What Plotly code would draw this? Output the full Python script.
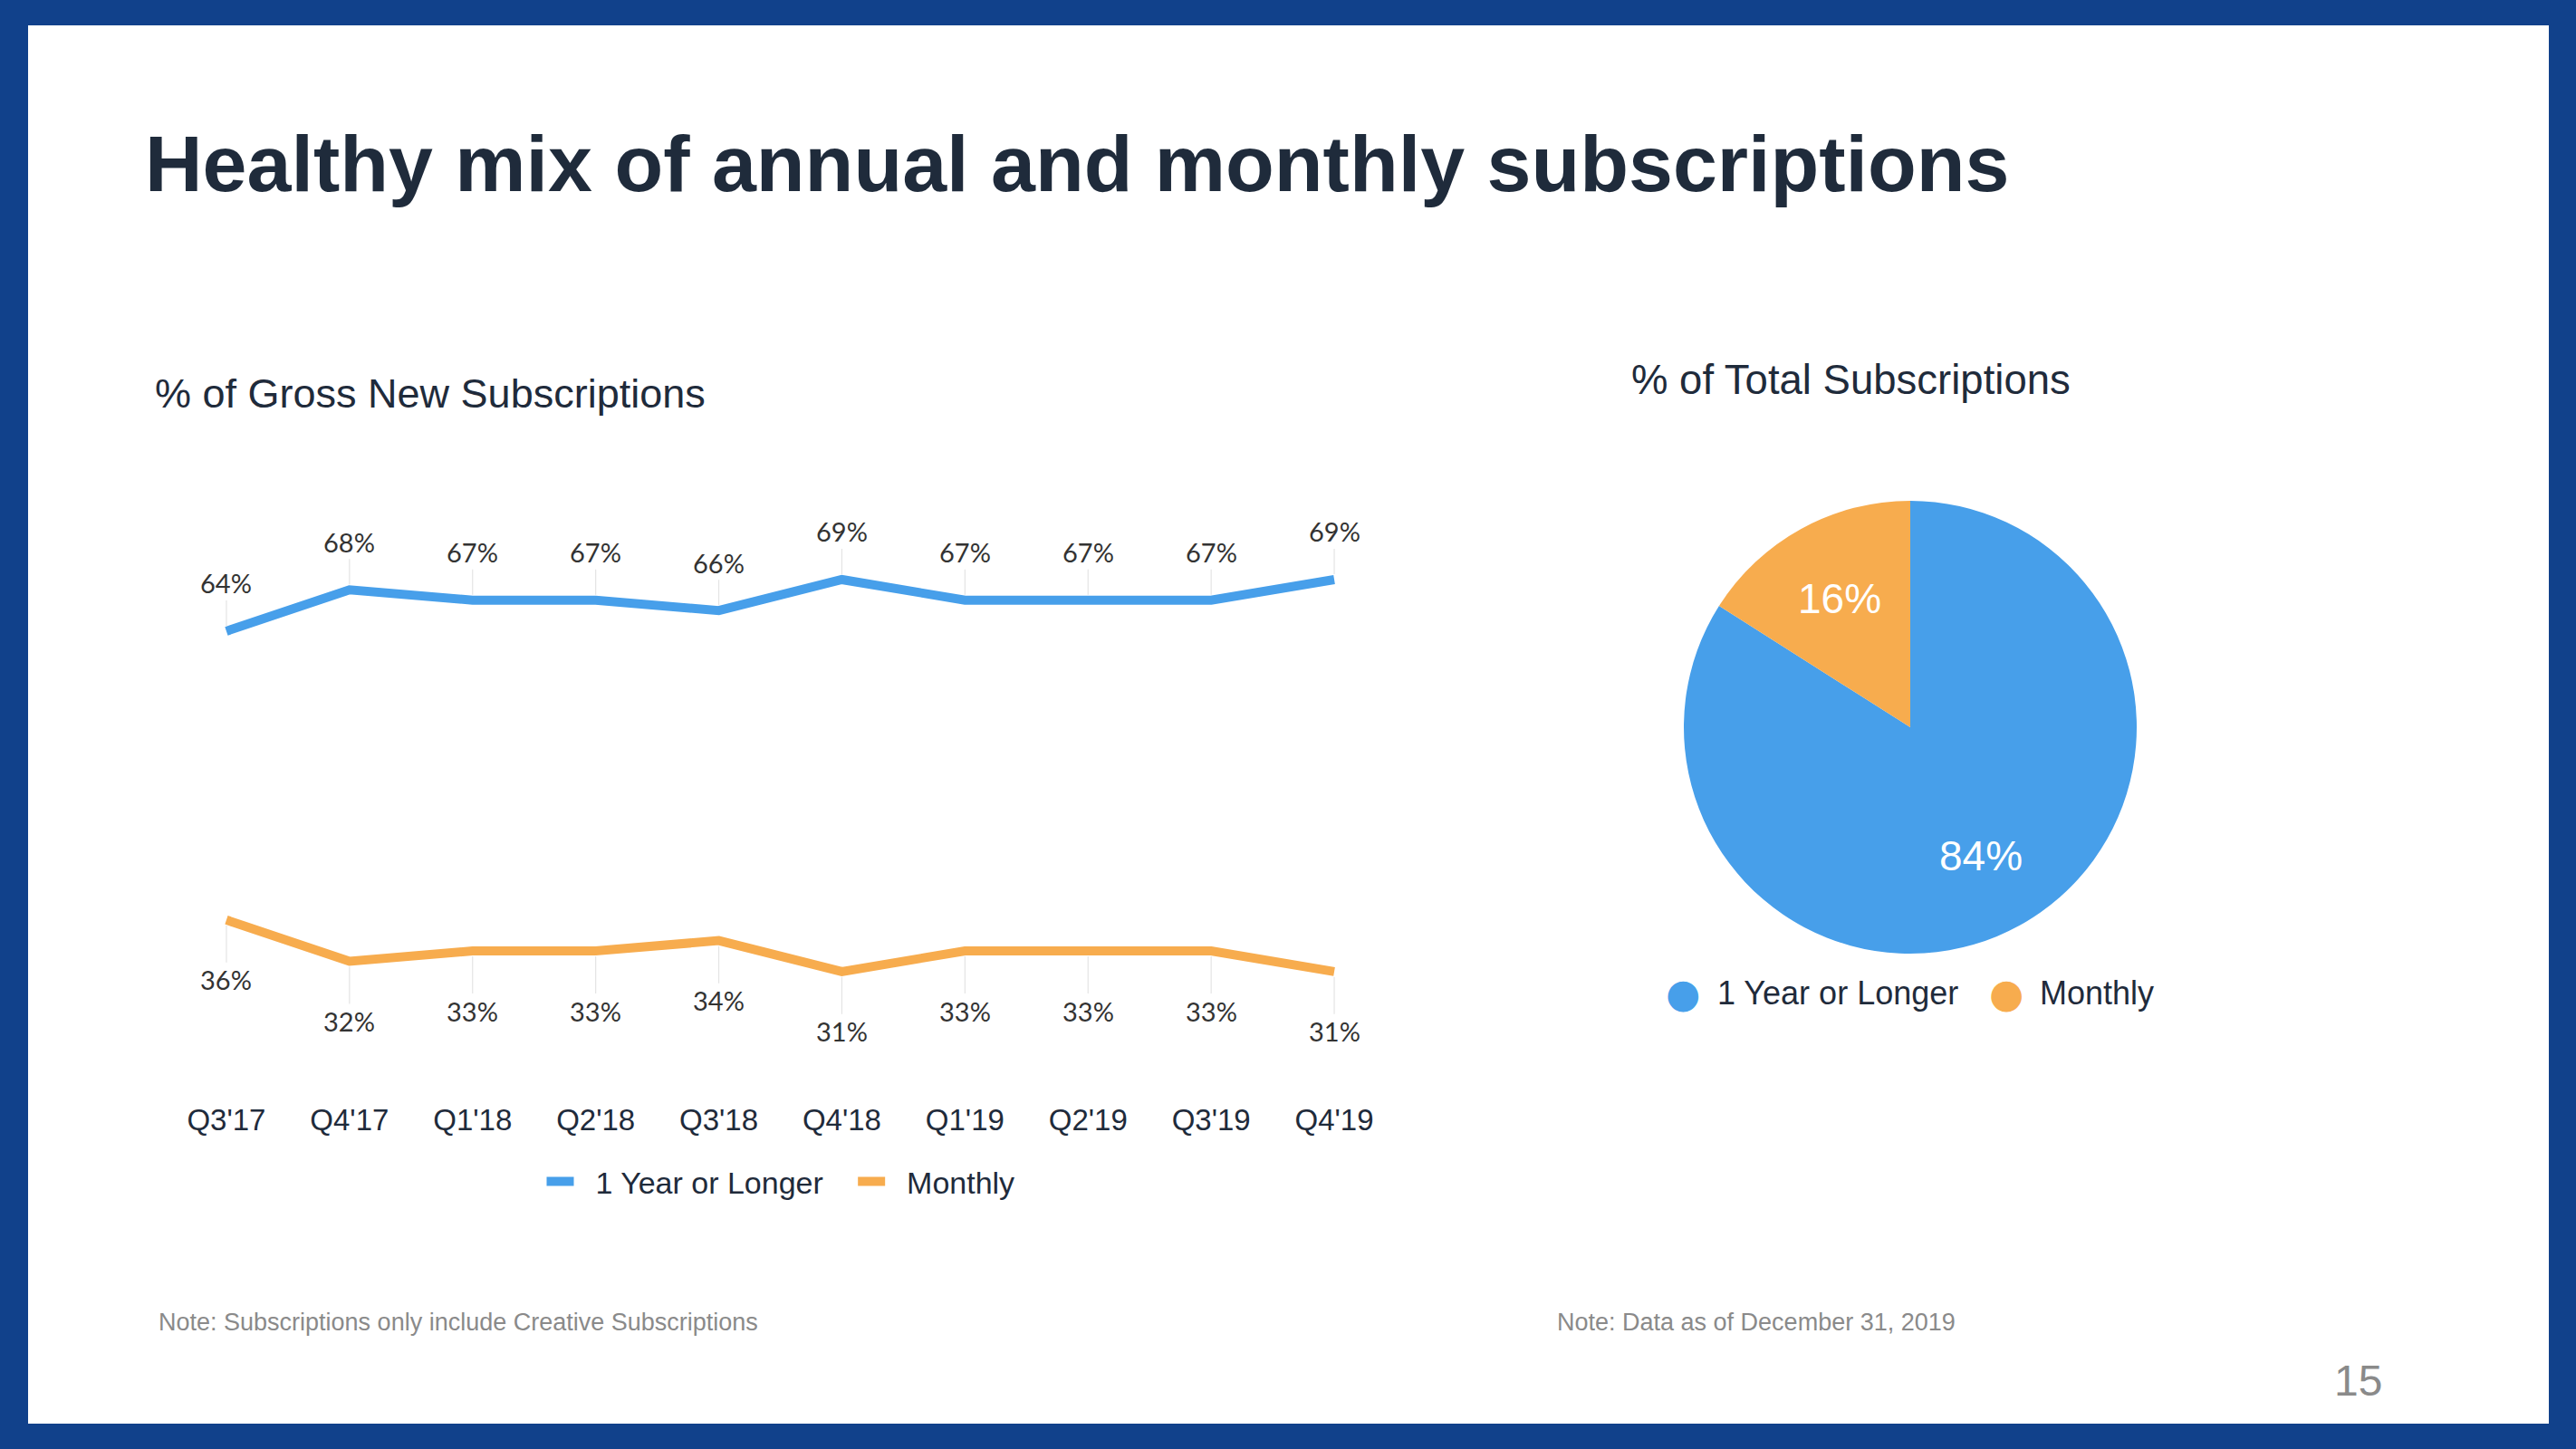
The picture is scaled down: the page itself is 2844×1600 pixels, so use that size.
import math
import plotly.graph_objects as go

# ---------------- data ----------------
quarters = ["Q3'17", "Q4'17", "Q1'18", "Q2'18", "Q3'18", "Q4'18", "Q1'19", "Q2'19", "Q3'19", "Q4'19"]
annual = [64, 68, 67, 67, 66, 69, 67, 67, 67, 69]
monthly = [36, 32, 33, 33, 34, 31, 33, 33, 33, 31]
pie_labels = ["1 Year or Longer", "Monthly"]
pie_values = [84, 16]

# ---------------- style ----------------
W, H = 2844, 1600
BLUE = "#479FEA"
ORANGE = "#F7AC4E"
DARK = "#1F2B3B"
BORDER = "#11418B"
GRAY = "#8A8A8A"
SANS = "Liberation Sans, Arial, Helvetica, sans-serif"
LBL = "Lato, Carlito, Calibri, sans-serif"
NB = "\u00a0"


def px(x):
    return x / W


def py(y):
    return 1 - y / H


# pie geometry (page pixels)
PIE_CX, PIE_CY, PIE_R = 2109, 803, 250

fig = go.Figure()

fig.add_trace(go.Scatter(x=quarters, y=annual, mode="lines", name=NB * 2 + pie_labels[0] + NB * 3,
                         line=dict(color=BLUE, width=10), hoverinfo="skip"))
fig.add_trace(go.Scatter(x=quarters, y=monthly, mode="lines", name=NB * 2 + pie_labels[1],
                         line=dict(color=ORANGE, width=10), hoverinfo="skip"))

fig.add_trace(go.Pie(labels=pie_labels, values=pie_values,
                     marker=dict(colors=[BLUE, ORANGE], line=dict(width=0)),
                     direction="clockwise", sort=False, rotation=0,
                     textinfo="none",
                     showlegend=False, hoverinfo="skip",
                     domain=dict(x=[px(PIE_CX - PIE_R), px(PIE_CX + PIE_R)],
                                 y=[py(PIE_CY + PIE_R), py(PIE_CY - PIE_R)])))

annotations = []
# line data labels with leader lines
for q, v in zip(quarters, annual):
    annotations.append(dict(x=q, y=v, xref="x", yref="y", text=f"{v}%",
                            showarrow=True, arrowhead=0, arrowwidth=1.2, arrowcolor="#E4E4E4",
                            ax=0, ay=-53, standoff=6,
                            font=dict(family=LBL, size=29, color="#333333")))
for q, v in zip(quarters, monthly):
    annotations.append(dict(x=q, y=v, xref="x", yref="y", text=f"{v}%",
                            showarrow=True, arrowhead=0, arrowwidth=1.2, arrowcolor="#E4E4E4",
                            ax=0, ay=66, standoff=6,
                            font=dict(family=LBL, size=29, color="#333333")))

# pie slice labels placed at the middle angle of each slice
total = sum(pie_values)
cum = 0
for v in pie_values:
    mid = (cum + v / 2) / total * 2 * math.pi
    cum += v
    lx = PIE_CX + 0.65 * PIE_R * math.sin(mid)
    ly = PIE_CY - 0.65 * PIE_R * math.cos(mid)
    annotations.append(dict(x=px(lx), y=py(ly), xref="paper", yref="paper",
                            xanchor="center", yanchor="middle", text=f"{v}%", showarrow=False,
                            font=dict(family=SANS, size=46, color="white")))

# texts
annotations += [
    dict(x=px(158), y=py(180), xref="paper", yref="paper", xanchor="left", yanchor="middle",
         text="<b>Healthy mix of annual and monthly subscriptions</b>", showarrow=False,
         font=dict(family=SANS, size=88, color=DARK)),
    dict(x=px(169), y=py(435), xref="paper", yref="paper", xanchor="left", yanchor="middle",
         text="% of Gross New Subscriptions", showarrow=False,
         font=dict(family=SANS, size=45, color=DARK)),
    dict(x=px(1799), y=py(420), xref="paper", yref="paper", xanchor="left", yanchor="middle",
         text="% of Total Subscriptions", showarrow=False,
         font=dict(family=SANS, size=45.5, color=DARK)),
    dict(x=px(173), y=py(1460), xref="paper", yref="paper", xanchor="left", yanchor="middle",
         text="Note: Subscriptions only include Creative Subscriptions", showarrow=False,
         font=dict(family=SANS, size=27, color=GRAY)),
    dict(x=px(1717), y=py(1460), xref="paper", yref="paper", xanchor="left", yanchor="middle",
         text="Note: Data as of December 31, 2019", showarrow=False,
         font=dict(family=SANS, size=27, color=GRAY)),
    dict(x=px(2632), y=py(1524), xref="paper", yref="paper", xanchor="right", yanchor="middle",
         text="15", showarrow=False,
         font=dict(family=SANS, size=48, color=GRAY)),
    # pie legend
    dict(x=px(1858), y=py(1096), xref="paper", yref="paper", xanchor="center", yanchor="middle",
         text="●", showarrow=False, font=dict(family="DejaVu Sans", size=44, color=BLUE)),
    dict(x=px(1894), y=py(1096), xref="paper", yref="paper", xanchor="left", yanchor="middle",
         text=pie_labels[0], showarrow=False, font=dict(family=SANS, size=36, color=DARK)),
    dict(x=px(2215), y=py(1096), xref="paper", yref="paper", xanchor="center", yanchor="middle",
         text="●", showarrow=False, font=dict(family="DejaVu Sans", size=44, color=ORANGE)),
    dict(x=px(2250), y=py(1096), xref="paper", yref="paper", xanchor="left", yanchor="middle",
         text=pie_labels[1], showarrow=False, font=dict(family=SANS, size=36, color=DARK)),
]

fig.update_layout(
    width=W, height=H,
    margin=dict(l=0, r=0, t=0, b=0),
    paper_bgcolor=BORDER,
    plot_bgcolor="rgba(0,0,0,0)",
    hovermode=False,
    xaxis=dict(domain=[px(182), px(1541)], range=[-0.5, 9.5], type="category",
               showgrid=False, zeroline=False, showline=False, ticks="",
               tickfont=dict(family=SANS, size=33, color=DARK), ticklabelstandoff=34),
    yaxis=dict(domain=[py(1180), py(560)], range=[21.59, 76.02], visible=False),
    legend=dict(orientation="h", x=px(862), xanchor="center", y=py(1305), yanchor="middle",
                font=dict(family=SANS, size=34, color=DARK), bgcolor="rgba(0,0,0,0)",
                itemwidth=30),
    shapes=[dict(type="rect", xref="paper", yref="paper", x0=px(31), x1=px(2814),
                 y0=py(1572), y1=py(28), fillcolor="white", line=dict(width=0), layer="below")],
    annotations=annotations,
)

fig.write_html("out.html", config={"displayModeBar": False},
               post_script="document.body.style.margin='0';document.body.style.overflow='hidden';")
